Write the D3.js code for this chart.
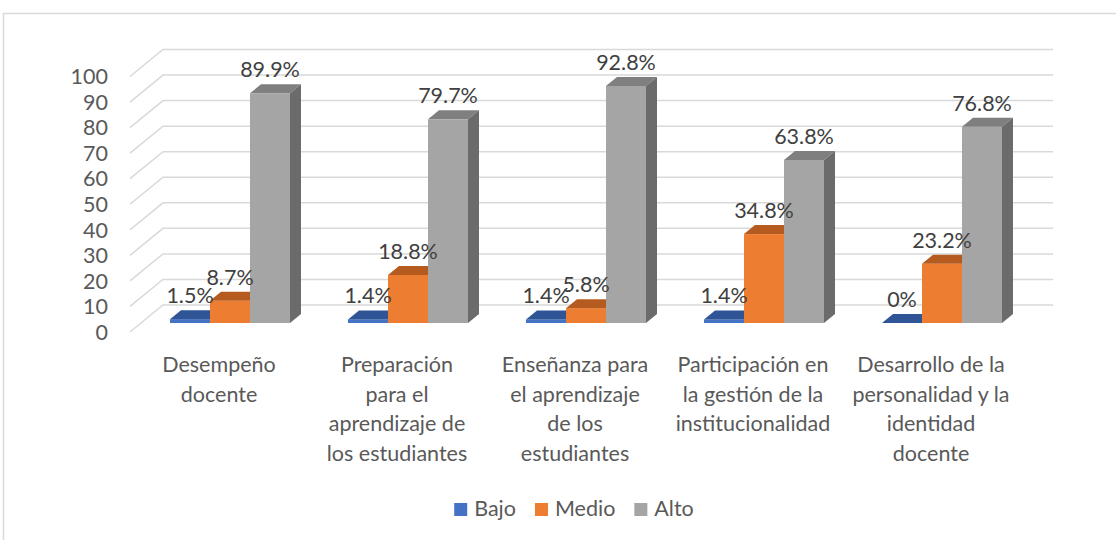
<!DOCTYPE html>
<html>
<head>
<meta charset="utf-8">
<script src="https://cdn.jsdelivr.net/npm/d3@7"></script>
<style>
  body { margin: 0; background: #fff; }
  text { font-family: Lato, "Open Sans", sans-serif; fill: #595959; }
</style>
</head>
<body>
<script>
// categories (one entry per line of the wrapped label)
const categories = [
  ["Desempeño", "docente"],
  ["Preparación", "para el", "aprendizaje de", "los estudiantes"],
  ["Enseñanza para", "el aprendizaje", "de los", "estudiantes"],
  ["Participación en", "la gestión de la", "institucionalidad"],
  ["Desarrollo de la", "personalidad y la", "identidad", "docente"]
];
const series = ["Bajo", "Medio", "Alto"];
const bajo = [1.5, 1.4, 1.4, 1.4, 0];
const medio = [8.7, 18.8, 5.8, 34.8, 23.2];
const alto = [89.9, 79.7, 92.8, 63.8, 76.8];
const yTicks = [0, 10, 20, 30, 40, 50, 60, 70, 80, 90, 100];

const values = { Bajo: bajo, Medio: medio, Alto: alto };
const colors = {
  Bajo: { front: "#4472c4", top: "#2f5597", side: "#2b4d8a" },
  Medio: { front: "#ed7d31", top: "#b65b1f", side: "#a4521b" },
  Alto: { front: "#a5a5a5", top: "#7f7f7f", side: "#6b6b6b" }
};

const width = 1116, height = 540;
const fontSize = 21.5;

// 3d offsets: back wall and bar depth
const wallDx = 33, wallDy = 27;
const barDx = 11, barDy = 9;

const svg = d3.select("body").append("svg")
  .attr("width", width)
  .attr("height", height);

// chart border
svg.append("rect")
  .attr("x", 3.5).attr("y", 13.5)
  .attr("width", 1300).attr("height", 700)
  .attr("fill", "none")
  .attr("stroke", "#d9d9d9")
  .attr("stroke-width", 1.5);

const x = d3.scaleBand().domain(d3.range(categories.length)).range([130, 1020]);
const xs = d3.scaleBand().domain(series).range([0, 120]);
const y = d3.scaleLinear().domain([0, 100]).range([332, 76.5]);

// gridlines: short diagonal on the floor side, then along the back wall
svg.append("g")
  .selectAll("path")
  .data(yTicks)
  .join("path")
  .attr("d", t => `M${x.range()[0]},${y(t)} L${x.range()[0] + wallDx},${y(t) - wallDy} L${x.range()[1] + wallDx},${y(t) - wallDy}`)
  .attr("fill", "none")
  .attr("stroke", "#d9d9d9")
  .attr("stroke-width", 1.5);

// y tick labels
svg.append("g")
  .selectAll("text")
  .data(yTicks)
  .join("text")
  .attr("x", 108)
  .attr("y", t => y(t))
  .attr("dy", "0.36em")
  .attr("text-anchor", "end")
  .style("font-size", fontSize + "px")
  .text(t => t);

// bars
const base = y(0) - barDy;
const groups = svg.append("g")
  .selectAll("g")
  .data(categories)
  .join("g")
  .attr("transform", (d, i) => `translate(${x(i) + (x.bandwidth() - 120) / 2 + barDx},0)`);

groups.each(function (c, i) {
  const g = d3.select(this);
  series.forEach(s => {
    const v = values[s][i];
    const x0 = xs(s), x1 = xs(s) + xs.bandwidth();
    const top = y(v) - barDy;
    const col = colors[s];
    g.append("rect")
      .attr("x", x0).attr("y", top)
      .attr("width", x1 - x0).attr("height", base - top)
      .attr("fill", col.front);
    g.append("path")
      .attr("d", `M${x0},${top} L${x1},${top} L${x1 + barDx},${top - barDy} L${x0 + barDx},${top - barDy} Z`)
      .attr("fill", col.top);
    g.append("path")
      .attr("d", `M${x1},${top} L${x1 + barDx},${top - barDy} L${x1 + barDx},${base - barDy} L${x1},${base} Z`)
      .attr("fill", col.side);
  });
  // value labels on top of everything in the group
  series.forEach(s => {
    const v = values[s][i];
    g.append("text")
      .attr("x", xs(s) + xs.bandwidth() / 2)
      .attr("y", y(v) - barDy * 2 - 7)
      .attr("text-anchor", "middle")
      .style("font-size", fontSize + "px")
      .style("fill", "#404040")
      .text(v + "%");
  });
});

// category labels
const cat = svg.append("g")
  .selectAll("text")
  .data(categories)
  .join("text")
  .attr("text-anchor", "middle")
  .style("font-size", fontSize + "px");

cat.selectAll("tspan")
  .data((d, i) => d.map(line => ({ line, i })))
  .join("tspan")
  .attr("x", d => x(d.i) + x.bandwidth() / 2)
  .attr("y", (d, k) => 372 + k * 29.5)
  .text(d => d.line);

// legend
const legend = svg.append("g");
let lx = 0;
series.forEach(s => {
  const item = legend.append("g").attr("transform", `translate(${lx},0)`);
  item.append("rect")
    .attr("x", 0).attr("y", -13)
    .attr("width", 13).attr("height", 13)
    .attr("fill", colors[s].front);
  const t = item.append("text")
    .attr("x", 20).attr("y", 0)
    .style("font-size", fontSize + "px")
    .text(s);
  lx += 20 + t.node().getComputedTextLength() + 19;
});
lx -= 19;
legend.attr("transform", `translate(${574 - lx / 2},516)`);
</script>
</body>
</html>
